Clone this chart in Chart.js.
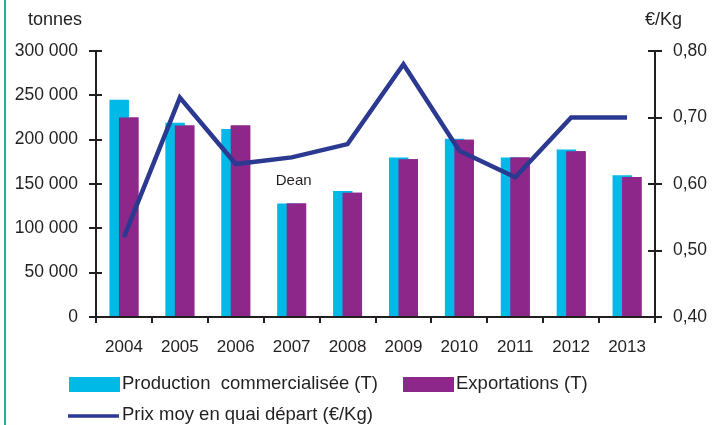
<!DOCTYPE html>
<html>
<head>
<meta charset="utf-8">
<script src="https://cdn.jsdelivr.net/npm/chart.js@4/dist/chart.umd.min.js"></script>
<style>
  html, body { margin: 0; padding: 0; background: #ffffff; }
  #wrap { position: relative; width: 717px; height: 425px; overflow: hidden; }
  #edge { position: absolute; left: 4px; top: 0; width: 2px; height: 425px; background: #1db39b; }
  canvas { position: absolute; left: 0; top: 0; }
</style>
</head>
<body>
<div id="wrap">
  <canvas id="c" width="717" height="425"></canvas>
  <div id="edge"></div>
</div>
<script>
const categories = ['2004', '2005', '2006', '2007', '2008', '2009', '2010', '2011', '2012', '2013'];
const production = [245000, 219000, 212000, 128000, 142000, 180000, 201000, 180000, 189000, 160000];
const exportations = [225000, 216000, 216000, 128000, 140000, 178000, 200000, 180000, 187000, 158000];
const prix = [0.52, 0.73, 0.63, 0.64, 0.66, 0.78, 0.65, 0.61, 0.70, 0.70];
const leftTicks = [0, 50000, 100000, 150000, 200000, 250000, 300000];
const rightTicks = [0.40, 0.50, 0.60, 0.70, 0.80];
const seriesLabels = ['Production  commercialisée (T)', 'Exportations (T)', 'Prix moy en quai départ (€/Kg)'];
const axisTitles = ['tonnes', '€/Kg'];
const note = { category: '2007', value: 154000, text: 'Dean' };

const INK = '#231f20';
const FONT = 'Liberation Sans, Arial, sans-serif';
const CYAN = '#00b9e7';
const PURPLE = '#8e278a';
const NAVY = '#2b3990';

function fmtThousands(v) {
  return String(Math.round(v)).replace(/\B(?=(\d{3})+(?!\d))/g, ' ');
}

const extras = {
  id: 'extras',
  afterDatasetDraw(chart, args) {
    // keep purple bars above the overlapping cyan bars
    if (args.index === 0) {
      chart.getDatasetMeta(1).controller.draw();
    }
  },
  afterDraw(chart) {
    const ctx = chart.ctx;
    const ca = chart.chartArea;
    const y = chart.scales.y, y1 = chart.scales.y1, x = chart.scales.x;
    ctx.save();
    ctx.strokeStyle = INK;
    ctx.lineWidth = 2;
    // inner halves of the crossing tick marks
    leftTicks.forEach(v => {
      const py = Math.round(y.getPixelForValue(v));
      ctx.beginPath(); ctx.moveTo(ca.left, py); ctx.lineTo(ca.left + 6, py); ctx.stroke();
    });
    rightTicks.forEach(v => {
      const py = Math.round(y1.getPixelForValue(v));
      ctx.beginPath(); ctx.moveTo(ca.right - 7, py); ctx.lineTo(ca.right, py); ctx.stroke();
    });
    // axis titles
    ctx.fillStyle = INK;
    ctx.font = '18px ' + FONT;
    ctx.textBaseline = 'middle';
    ctx.textAlign = 'right';
    ctx.fillText(axisTitles[0], ca.left - 14, ca.top - 31);
    ctx.textAlign = 'left';
    ctx.fillText(axisTitles[1], ca.right - 10, ca.top - 31);
    // annotation
    ctx.font = '15px ' + FONT;
    ctx.textAlign = 'center';
    ctx.fillText(note.text, x.getPixelForValue(categories.indexOf(note.category)) + 2, y.getPixelForValue(note.value));
    // legend
    ctx.font = '18.5px ' + FONT;
    ctx.textAlign = 'left';
    const r1 = ca.bottom + 67, r2 = ca.bottom + 98;
    ctx.fillStyle = CYAN;
    ctx.fillRect(ca.left - 27, r1 - 7, 51, 15);
    ctx.fillStyle = PURPLE;
    ctx.fillRect(ca.left + 307, r1 - 7, 51, 15);
    ctx.strokeStyle = NAVY;
    ctx.lineWidth = 3.5;
    ctx.beginPath(); ctx.moveTo(ca.left - 28, r2 + 1); ctx.lineTo(ca.left + 23, r2 + 1); ctx.stroke();
    ctx.fillStyle = INK;
    ctx.fillText(seriesLabels[0], ca.left + 26, r1);
    ctx.fillText(seriesLabels[1], ca.left + 360, r1);
    ctx.fillText(seriesLabels[2], ca.left + 26, r2);
    ctx.restore();
  }
};

new Chart(document.getElementById('c'), {
  type: 'bar',
  data: {
    labels: categories,
    datasets: [
      { label: seriesLabels[0], data: production, backgroundColor: CYAN, borderWidth: 0,
        categoryPercentage: 0.34, barPercentage: 2.05, yAxisID: 'y' },
      { label: seriesLabels[1], data: exportations, backgroundColor: PURPLE, borderWidth: 0,
        categoryPercentage: 0.34, barPercentage: 2.05, yAxisID: 'y' },
      { type: 'line', label: seriesLabels[2], data: prix, borderColor: NAVY, borderWidth: 4.5,
        pointRadius: 0, tension: 0, fill: false, yAxisID: 'y1', order: -1,
        borderJoinStyle: 'miter', borderCapStyle: 'butt' }
    ]
  },
  options: {
    responsive: false,
    animation: false,
    devicePixelRatio: 1,
    layout: { padding: { top: 51, left: 0, right: 0, bottom: 0 } },
    plugins: { legend: { display: false }, tooltip: { enabled: false } },
    scales: {
      x: {
        grid: { drawOnChartArea: false, drawTicks: true, tickLength: 6, color: INK, lineWidth: 2, offset: true },
        border: { color: INK, width: 2 },
        ticks: { color: INK, font: { family: FONT, size: 17 }, padding: 14, maxRotation: 0 },
        afterFit: s => { s.height = 108; }
      },
      y: {
        position: 'left', min: 0, max: 300000,
        afterBuildTicks: s => { s.ticks = leftTicks.map(v => ({ value: v })); },
        ticks: { color: INK, font: { family: FONT, size: 17.5 }, padding: 11, callback: v => fmtThousands(v) },
        grid: { drawOnChartArea: false, tickLength: 7, color: INK, lineWidth: 2 },
        border: { color: INK, width: 2 },
        afterFit: s => { s.width = 96; }
      },
      y1: {
        position: 'right', min: 0.4, max: 0.8,
        afterBuildTicks: s => { s.ticks = rightTicks.map(v => ({ value: v })); },
        ticks: { color: INK, font: { family: FONT, size: 17.5 }, padding: 11, callback: v => v.toFixed(2).replace('.', ',') },
        grid: { drawOnChartArea: false, tickLength: 7, color: INK, lineWidth: 2 },
        border: { color: INK, width: 2 },
        afterFit: s => { s.width = 62; }
      }
    }
  },
  plugins: [extras]
});
</script>
</body>
</html>
